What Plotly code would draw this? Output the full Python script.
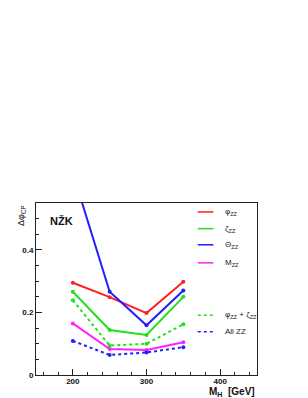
import plotly.graph_objects as go

mh = [200, 250, 300, 350]
phi_zz = [0.295, 0.249, 0.198, 0.298]
zeta_zz = [0.266, 0.144, 0.128, 0.250]
theta_zz = [0.646, 0.266, 0.159, 0.270]
m_zz = [0.165, 0.083, 0.080, 0.105]
phi_zeta = [0.239, 0.094, 0.100, 0.162]
all_zz = [0.109, 0.064, 0.072, 0.089]

series = [
    ("φ<sub>ZZ</sub>", phi_zz, "#ff2020", "solid"),
    ("ζ<sub>ZZ</sub>", zeta_zz, "#20e020", "solid"),
    ("Θ<sub>ZZ</sub>", theta_zz, "#2020ff", "solid"),
    ("M<sub>ZZ</sub>", m_zz, "#ff20ff", "solid"),
    ("φ<sub>ZZ</sub> + ζ<sub>ZZ</sub>", phi_zeta, "#20e020", "dot"),
    ("All ZZ", all_zz, "#2020ff", "dot"),
]

FONT = "Liberation Sans, Arial, sans-serif"
fig = go.Figure()
for name, vals, col, dash in series:
    fig.add_trace(go.Scatter(
        x=mh, y=vals, mode="lines+markers", name=name,
        line=dict(color=col, width=2, dash=dash),
        marker=dict(color=col, size=4), showlegend=False, cliponaxis=True))

# manual legend (paper coords)
leg_y = [0.948, 0.851, 0.757, 0.652, 0.347, 0.251]
for (name, vals, col, dash), yy in zip(series, leg_y):
    fig.add_shape(type="line", xref="paper", yref="paper",
                  x0=0.732, x1=0.803, y0=yy, y1=yy,
                  line=dict(color=col, width=1.5, dash=dash))
    fig.add_annotation(xref="paper", yref="paper", x=0.845, y=yy,
                       text=name, showarrow=False, xanchor="left", yanchor="middle",
                       font=dict(family=FONT, size=8, color="#222"))

fig.add_annotation(xref="paper", yref="paper", x=0.055, y=0.895, text="NŽK",
                   showarrow=False, xanchor="left", yanchor="middle",
                   font=dict(family=FONT, size=11, color="#111", weight="bold"))
fig.add_annotation(xref="paper", yref="paper", x=1.0, y=-0.055, text="M<sub>H</sub>  [GeV]",
                   showarrow=False, xanchor="right", yanchor="top",
                   font=dict(family=FONT, size=10, color="#111", weight="bold"))
fig.add_annotation(xref="paper", yref="paper", x=-0.066, y=1.0, text="Δφ<sub>CP</sub>",
                   showarrow=False, xanchor="center", yanchor="top", textangle=-90,
                   font=dict(family=FONT, size=9, color="#111"))

axis_common = dict(showgrid=False, zeroline=False, showline=True, linecolor="#222",
                   linewidth=1, mirror=True, ticks="inside", ticklen=6, tickcolor="#222",
                   tickfont=dict(family=FONT, size=8, color="#111", weight="bold"))
fig.update_xaxes(range=[150, 450], tickvals=[200, 300, 400], ticklabelstandoff=-2,
                 **axis_common,
                 minor=dict(dtick=20, tick0=0, ticks="inside", ticklen=3, tickcolor="#222"))
fig.update_yaxes(range=[0, 0.55], tickvals=[0, 0.2, 0.4], ticktext=["0", "0.2", "0.4"],
                 **axis_common,
                 minor=dict(dtick=0.05, tick0=0, ticks="inside", ticklen=3, tickcolor="#222"))

# page body has an 8px margin, so the figure is 8px smaller and margins compensate
fig.update_layout(width=300, height=390, margin=dict(l=28, r=51, t=195, b=21),
                  plot_bgcolor="white", paper_bgcolor="white", showlegend=False)
fig.write_html("out.html")
